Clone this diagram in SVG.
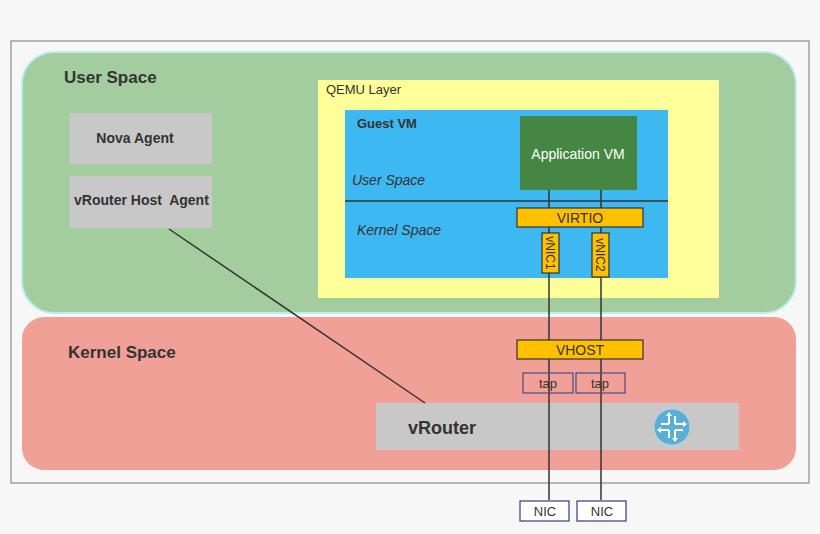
<svg xmlns="http://www.w3.org/2000/svg" width="820" height="534" viewBox="0 0 820 534">
<style>
text{font-family:"Liberation Sans",Arial,sans-serif;}
.b{font-weight:bold;fill:#333;}
.ln{stroke:#333;stroke-width:1.5;fill:none;}
.or{fill:#ffc000;stroke:#333;stroke-width:1.2;}
.gr{fill:#c8c8c8;}
.tap{fill:none;stroke:#4a4a8a;stroke-width:1.2;}
.nic{fill:#fff;stroke:#2e3f7f;stroke-width:1.2;}
</style>
<rect width="820" height="534" fill="#f7f7f7"/>
<rect x="11" y="41" width="798" height="442" fill="#f7f7f7" stroke="#777" stroke-width="1"/>
<g id="user-space"><rect x="22" y="52" width="774" height="261" rx="32" fill="#a3cd9f" stroke="#b8eef0" stroke-width="2"/><text x="64" y="83" font-size="17" class="b">User Space</text></g>
<g id="kernel-space"><rect x="22" y="317" width="774" height="153" rx="22" fill="#f0a097"/><text x="68" y="358" font-size="17" class="b">Kernel Space</text></g>
<g id="qemu"><rect x="318" y="80" width="401" height="218" fill="#ffff99"/><text x="326" y="94" font-size="13" fill="#333">QEMU Layer</text></g>
<g id="guest-vm"><rect x="345" y="110" width="323" height="168" fill="#3db8f0"/><text x="357" y="128" font-size="13" class="b">Guest VM</text>
<text x="352" y="185" font-size="14" font-style="italic" fill="#333">User Space</text>
<text x="357" y="235" font-size="14" font-style="italic" fill="#333">Kernel Space</text>
<line x1="345" y1="201" x2="668" y2="201" stroke="#333" stroke-width="1.5"/></g>
<g id="nova-agent"><rect class="gr" x="70" y="113" width="142" height="51"/><text x="135" y="143" font-size="14" class="b" text-anchor="middle">Nova Agent</text></g>
<g id="host-agent"><rect class="gr" x="70" y="176" width="142" height="52"/><text x="74" y="205" font-size="14" class="b" xml:space="preserve">vRouter Host  Agent</text></g>
<g id="app-vm"><rect x="520" y="116" width="117" height="74" fill="#458642"/><text x="578" y="159" font-size="14" fill="#fff" text-anchor="middle">Application VM</text></g>
<g id="vrouter"><rect class="gr" x="376" y="403" width="363" height="47"/><text x="408" y="434" font-size="18" class="b">vRouter</text>
<g transform="translate(672,427)"><circle r="18" fill="#5aaed6" stroke="#a8d8ee" stroke-width="1"/>
<g fill="none" stroke="#fff" stroke-width="2"><path d="M-3,-3 V-13 M3,-3 H13 M3,3 V13 M-3,3 H-13"/></g>
<g fill="#fff"><path d="M-3,-15 l-3,4 h6z M15,-3 l-4,-3 v6z M3,15 l-3,-4 h6z M-15,3 l4,-3 v6z"/></g>
<g stroke="#fff" stroke-width="2"><path d="M-3,-3 H-11 M3,-3 V-11 M3,3 H11 M-3,3 V11"/></g></g></g>
<g id="connectors">
<line class="ln" x1="549" y1="190" x2="549" y2="500"/>
<line class="ln" x1="601" y1="190" x2="601" y2="500"/>
<line class="ln" x1="169" y1="229" x2="425" y2="403"/>
</g>
<g id="virtio"><rect class="or" x="517" y="208" width="126" height="19"/><text x="580" y="223" font-size="14" fill="#333" text-anchor="middle">VIRTIO</text></g>
<g id="vnic1"><rect class="or" x="542" y="233" width="17" height="40"/><text transform="translate(546,253) rotate(90)" font-size="12" fill="#333" text-anchor="middle">vNIC1</text></g>
<g id="vnic2"><rect class="or" x="592" y="233" width="17" height="44"/><text transform="translate(596,255) rotate(90)" font-size="12" fill="#333" text-anchor="middle">vNIC2</text></g>
<g id="vhost"><rect class="or" x="517" y="340" width="126" height="19"/><text x="580" y="355" font-size="14" fill="#333" text-anchor="middle">VHOST</text></g>
<g id="tap1"><rect class="tap" x="523" y="373" width="50" height="20"/><text x="548" y="388" font-size="13" fill="#333" text-anchor="middle">tap</text></g>
<g id="tap2"><rect class="tap" x="576" y="373" width="49" height="20"/><text x="600" y="388" font-size="13" fill="#333" text-anchor="middle">tap</text></g>
<g id="nic1"><rect class="nic" x="520" y="501" width="49" height="20"/><text x="545" y="516" font-size="13" fill="#333" text-anchor="middle">NIC</text></g>
<g id="nic2"><rect class="nic" x="577" y="501" width="49" height="20"/><text x="602" y="516" font-size="13" fill="#333" text-anchor="middle">NIC</text></g>
</svg>
